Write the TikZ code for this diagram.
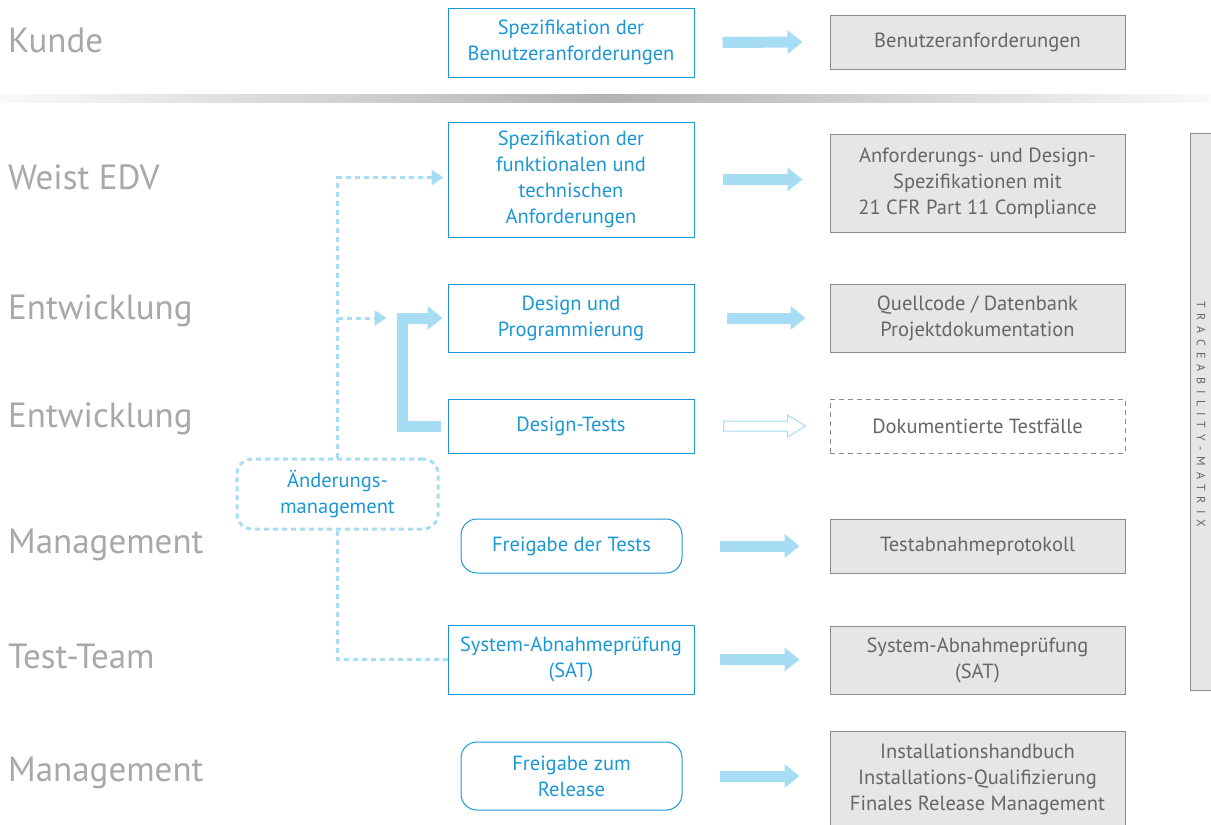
\documentclass[tikz,border=0pt]{standalone}
\usepackage{fontspec}
\setmainfont{PT Sans}
\usetikzlibrary{arrows.meta,calc}

\definecolor{procblue}{HTML}{1C97D6}
\definecolor{flowblue}{HTML}{A6DDF5}
\definecolor{docfill}{HTML}{E6E6E6}
\definecolor{docline}{HTML}{8C8C8C}
\definecolor{doctext}{HTML}{666666}
\definecolor{roletext}{HTML}{A8A8A8}

\begin{document}
\begin{tikzpicture}[
  x=1pt, y=-1pt,
  every node/.style={font=\fontsize{20.5}{26}\selectfont, inner sep=0pt},
  role/.style={anchor=west, text=roletext, font=\fontsize{35}{40}\selectfont},
  proc/.style={draw=procblue, line width=1pt, text=procblue, align=center, minimum width=246pt},
  release/.style={proc, rounded corners=16pt, minimum width=221pt},
  doc/.style={draw=docline, fill=docfill, line width=1pt, text=doctext, align=center, minimum width=295pt},
  flow/.style={flowblue, line width=11pt, -{Triangle[length=15pt,width=23pt]}},
  dotline/.style={draw=flowblue, line width=3pt, dash pattern=on 5pt off 4pt},
  dotarrow/.style={dotline, -{Triangle[length=12pt,width=15pt]}}
]
\useasboundingbox (0,0) rectangle (1211,825);

% roles on the left
\node[role] (rKunde) at (8,40) {Kunde};
\node[role] (rWeist) at (8,177) {Weist EDV};
\node[role] (rEntw) at (8,311) {Entwicklung};
\node[role] (rEntwB) at (8,419) {Entwicklung};
\node[role] (rMgmt) at (8,545) {Management};
\node[role] (rTest) at (8,656) {Test-Team};
\node[role] (rMgmtB) at (8,773) {Management};

% separator
\shade[left color=gray!4, right color=gray!4, middle color=gray!60] (0,94) rectangle (1211,102);

% process boxes
\node[proc, minimum height=69pt] (b1) at (571,42.5) {Spezifikation der\\Benutzeranforderungen};
\node[proc, minimum height=115pt] (b2) at (571,179.5) {Spezifikation der\\funktionalen und\\technischen\\Anforderungen};
\node[proc, minimum height=68pt] (b3) at (571,318) {Design und\\Programmierung};
\node[proc, minimum height=54pt] (b4) at (571,426) {Design-Tests};
\node[release, minimum height=54pt] (b5) at (571.5,546) {Freigabe der Tests};
\node[proc, minimum height=69pt] (b6) at (571,659.5) {System-Abnahmeprüfung\\(SAT)};
\node[release, minimum height=68pt] (b7) at (571.5,776) {Freigabe zum\\Release};

% documents
\node[doc, minimum height=54pt] (g1) at (977.5,42) {Benutzeranforderungen};
\node[doc, minimum height=98pt] (g2) at (977.5,183) {Anforderungs- und Design-\\Spezifikationen mit\\21 CFR Part 11 Compliance};
\node[doc, minimum height=68pt] (g3) at (977.5,318) {Quellcode / Datenbank\\Projektdokumentation};
\node[doc, fill=white, dash pattern=on 5pt off 4pt, minimum height=54pt] (g4) at (977.5,426) {Dokumentierte Testfälle};
\node[doc, minimum height=54pt] (g5) at (977.5,546) {Testabnahmeprotokoll};
\node[doc, minimum height=68pt] (g6) at (977.5,660) {System-Abnahmeprüfung\\(SAT)};
\node[doc, minimum height=96pt] (g7) at (977.5,779) {Installationshandbuch\\Installations-Qualifizierung\\Finales Release Management};

% traceability
\node[draw=docline, fill=docfill, line width=1pt, minimum width=26pt, minimum height=557pt] (trace) at (1203,411.5) {};
\node[rotate=-90, text=doctext, font=\fontsize{12}{14}\selectfont\addfontfeatures{LetterSpace=50}] (traceLbl) at (1201,414) {TRACEABILITY-MATRIX};

% change management
\node[dotline, rounded corners=15pt, minimum width=201pt, minimum height=70pt, text=procblue, align=center] (chg) at (337.5,494) {Änderungs-\\management};

% block arrows
\draw[flow] ([xshift=28pt]b1.east) -- ([xshift=-27pt]g1.west);
\draw[flow] ([xshift=28pt]b2.east) -- ([xshift=-27pt]g2.west |- b2.east);
\draw[flow] ([xshift=32pt]b3.east) -- ([xshift=-24pt]g3.west);
\draw[flowblue, line width=1pt, fill=white] ($(b4.east)+(29,-5)$) -- ++(64,0) -- ++(0,-6) -- ++(18,11) -- ++(-18,11) -- ++(0,-6) -- ++(-64,0) -- cycle;
\draw[flow] ([xshift=37pt]b5.east) -- ([xshift=-30pt]g5.west);
\draw[flow] ([xshift=25pt]b6.east) -- ([xshift=-30pt]g6.west |- b6.east);
\draw[flow] ([xshift=37pt]b7.east) -- ([xshift=-30pt]g7.west |- b7.east);

% bracket from tests back to design
\draw[flow, line join=miter] ([xshift=-7pt]b4.west) -| ([xshift=-45pt]b3.west) -- ([xshift=-5pt]b3.west);

% change management links
\draw[dotarrow] (chg.north) |- ([xshift=-4pt,yshift=2pt]b2.west);
\draw[dotarrow] (chg.north |- b3.west) -- ([xshift=-61pt]b3.west);
\draw[dotline] (chg.south) |- (b6.west);
\end{tikzpicture}
\end{document}
